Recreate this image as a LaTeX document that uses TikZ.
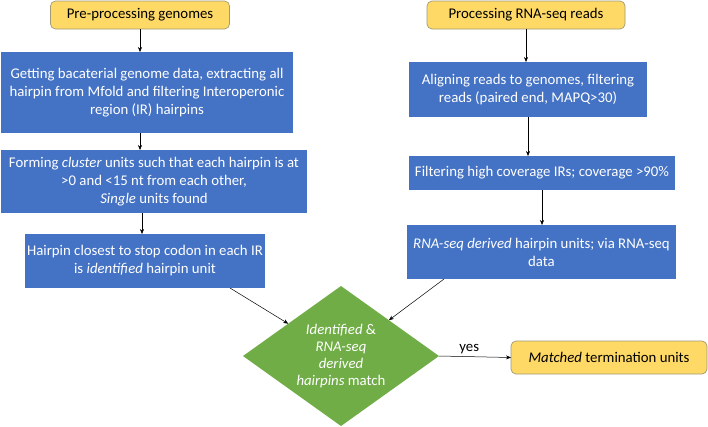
\documentclass[tikz,border=0pt]{standalone}
\usepackage{fontspec}
\setmainfont{Carlito}
\usetikzlibrary{shapes.geometric,arrows.meta}
\definecolor{boxblue}{HTML}{4472C4}
\definecolor{boxyellow}{HTML}{FFD966}
\definecolor{yborder}{HTML}{A09A78}
\definecolor{dgreen}{HTML}{70AD47}
\tikzset{
  bluebox/.style={rectangle, fill=boxblue, draw=none, text=white, align=center, inner sep=2pt, outer sep=0pt, font=\fontsize{14.8}{18}\selectfont},
  yelbox/.style={rectangle, rounded corners=5pt, fill=boxyellow, draw=yborder, line width=0.7pt, text=black, align=center, inner sep=2pt, outer sep=0pt, font=\fontsize{14.8}{18}\selectfont},
  decbox/.style={diamond, aspect=1.4, fill=dgreen, draw=none, text=white, align=center, inner sep=0pt, outer sep=0pt, minimum width=196pt, minimum height=140pt, font=\fontsize{14.8}{17}\selectfont},
  arr/.style={-{Stealth[length=5pt,width=4pt]}, line width=0.5pt, black}
}
\begin{document}
\begin{tikzpicture}[x=1pt,y=-1pt]
\useasboundingbox (0,0) rectangle (708,426);
% left column
\node[yelbox, minimum width=179pt, minimum height=28pt] (pre) at (140,15) {Pre-processing genomes};
\node[bluebox, minimum width=292pt, minimum height=81pt] (b1) at (147,92.5) {Getting bacaterial genome data, extracting all\\hairpin from Mfold and filtering Interoperonic\\region (IR) hairpins};
\node[bluebox, minimum width=306pt, minimum height=63pt] (b2) at (154,181.5) {Forming \textit{cluster} units such that each hairpin is at\\>0 and <15 nt from each other,\\\textit{Single} units found};
\node[bluebox, minimum width=240pt, minimum height=54pt] (b3) at (145,261) {Hairpin closest to stop codon in each IR\\is \textit{identified} hairpin unit};
% right column
\node[yelbox, minimum width=198pt, minimum height=28pt] (proc) at (526,15) {Processing RNA-seq reads};
\node[bluebox, minimum width=238pt, minimum height=55pt] (r1) at (528,89.5) {Aligning reads to genomes, filtering\\reads (paired end, MAPQ>30)};
\node[bluebox, minimum width=266pt, minimum height=34pt] (r2) at (542,173) {Filtering high coverage IRs; coverage >90\%};
\node[bluebox, minimum width=269pt, minimum height=54pt] (r3) at (541.5,252) {\textit{RNA-seq derived} hairpin units; via RNA-seq\\data};
% decision and result
\node[decbox] (d) at (341,356) {\textit{Identified} \&\\\textit{RNA-seq}\\\textit{derived}\\\textit{hairpins} match};
\node[yelbox, minimum width=196pt, minimum height=33pt] (m) at (609,357.5) {\textit{Matched} termination units};
% connectors
\draw[arr] (pre.south) -- (pre.south |- b1.north);
\draw[arr] ([xshift=-7pt]b1.south) -- ([xshift=-7pt]b1.south |- b2.north);
\draw[arr] ([xshift=-3pt]b3.north |- b2.south) -- ([xshift=-3pt]b3.north);
\draw[arr] ([xshift=85pt]b3.south) -- (d);
\draw[arr] (proc.south) -- (proc.south |- r1.north);
\draw[arr] (r1.south) -- (r1.south |- r2.north);
\draw[arr] (r2.south) -- (r2.south |- r3.north);
\draw[arr] ([xshift=-97.5pt]r3.south) -- (d);
\draw[arr] (d.east) -- node[above, pos=0.42, font=\fontsize{14.8}{16}\selectfont, inner sep=3pt] {yes} (m.west);
\end{tikzpicture}
\end{document}
